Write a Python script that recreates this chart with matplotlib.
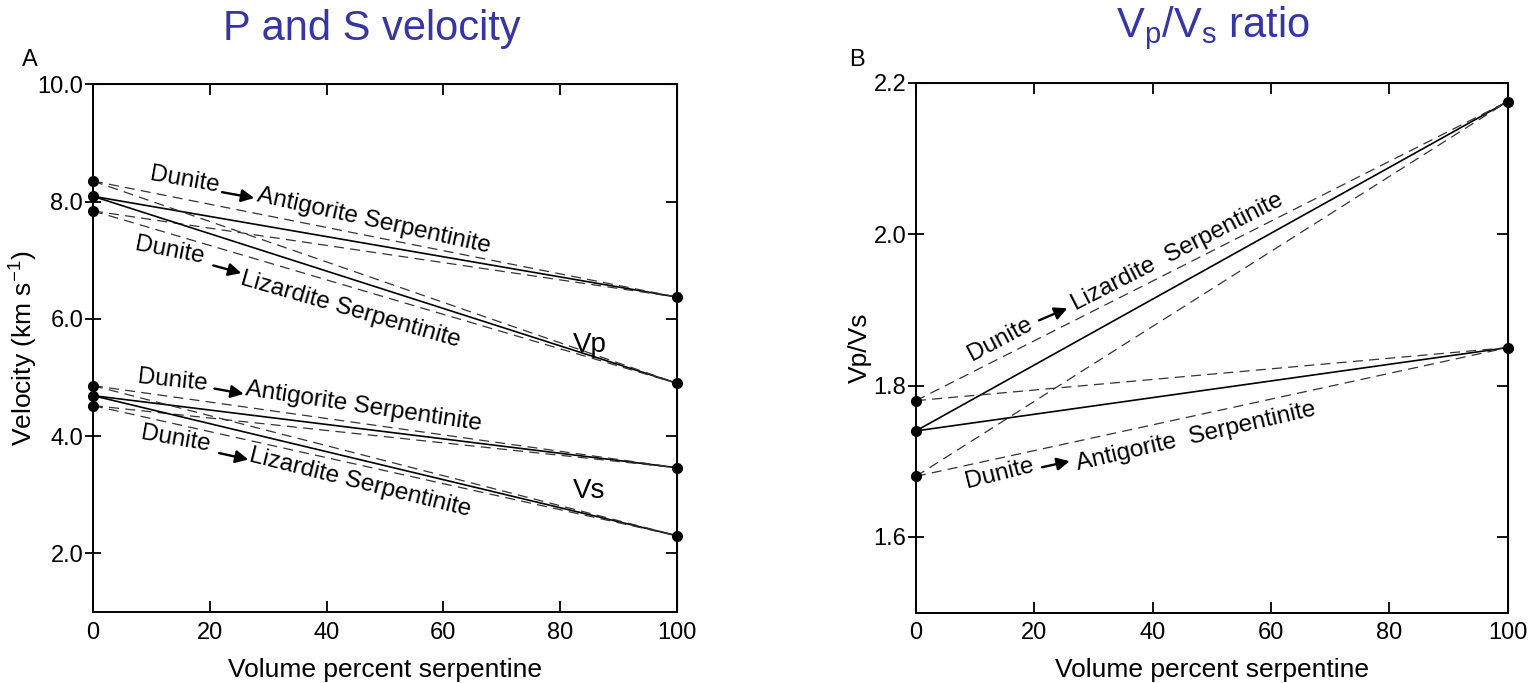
import matplotlib.pyplot as plt
from matplotlib.ticker import FormatStrFormatter

plt.rcParams['font.family'] = ['Liberation Sans', 'DejaVu Sans']
plt.rcParams['mathtext.fontset'] = 'custom'
plt.rcParams['mathtext.rm'] = 'Liberation Sans'
plt.rcParams['mathtext.it'] = 'Liberation Sans:italic'

# serpentine content (vol %)
x_ends = [0, 100]
x_ticks = [0, 20, 40, 60, 80, 100]

# panel A: dunite start values (upper, middle, lower) and serpentinite end values
vp_dunite = [8.35, 8.09, 7.84]
vp_antigorite = 6.37
vp_lizardite = 4.90
vs_dunite = [4.86, 4.69, 4.52]
vs_antigorite = 3.46
vs_lizardite = 2.30
vel_ticks = [2.0, 4.0, 6.0, 8.0, 10.0]

# panel B: Vp/Vs
ratio_dunite = [1.78, 1.74, 1.68]
ratio_lizardite = 2.175
ratio_antigorite = 1.85
ratio_ticks = [1.6, 1.8, 2.0, 2.2]

TITLE_BLUE = '#3535a5'
DASH = (0, (8, 5))


def draw_bundle(ax, starts, end):
    """Solid line from middle start, dashed from upper and lower starts."""
    ax.plot(x_ends, [starts[1], end], color='black', lw=1.2, clip_on=False)
    for s in (starts[0], starts[2]):
        ax.plot(x_ends, [s, end], color='#333333', lw=0.9, linestyle=DASH,
                clip_on=False)


def draw_dots(ax, ys_left, ys_right):
    ax.plot([0] * len(ys_left), ys_left, 'o', color='black', ms=7,
            clip_on=False, zorder=5)
    ax.plot([100] * len(ys_right), ys_right, 'o', color='black', ms=7,
            clip_on=False, zorder=5)


def label_path(ax, dunite_xy, arrow_from, arrow_to, name_xy, name, rot_a,
               rot_b, size=17.5):
    ax.text(*dunite_xy, 'Dunite', rotation=rot_a, rotation_mode='anchor',
            ha='center', va='center', fontsize=size)
    ax.annotate('', xy=arrow_to, xytext=arrow_from,
                arrowprops=dict(arrowstyle='-|>', color='black', lw=1.7,
                                mutation_scale=19, shrinkA=0, shrinkB=0))
    ax.text(*name_xy, name, rotation=rot_b, rotation_mode='anchor',
            ha='center', va='center', fontsize=size)


def style_axes(ax, yticks, ylim):
    ax.set_xlim(0, 100)
    ax.set_ylim(*ylim)
    ax.set_xticks(x_ticks)
    ax.set_yticks(yticks)
    ax.yaxis.set_major_formatter(FormatStrFormatter('%.1f'))
    ax.tick_params(axis='x', direction='in', length=8, width=1.3,
                   labelsize=17, pad=7)
    ax.tick_params(axis='y', direction='inout', length=12, width=1.3,
                   labelsize=17, pad=1)
    for sp in ax.spines.values():
        sp.set_linewidth(1.4)
    top = ax.secondary_xaxis('top')
    top.set_xticks(x_ticks)
    top.tick_params(direction='in', length=8, width=1.3, labeltop=False)
    right = ax.secondary_yaxis('right')
    right.set_yticks(yticks)
    right.tick_params(direction='in', length=8, width=1.3, labelright=False)
    ax.set_xlabel('Volume percent serpentine', fontsize=19, labelpad=10)


fig = plt.figure(figsize=(15.29, 6.83), dpi=100)
axA = fig.add_axes([0.0608, 0.104, 0.382, 0.7726])
axB = fig.add_axes([0.599, 0.103, 0.387, 0.776])

# ---- panel A
draw_bundle(axA, vp_dunite, vp_antigorite)
draw_bundle(axA, vp_dunite, vp_lizardite)
draw_bundle(axA, vs_dunite, vs_antigorite)
draw_bundle(axA, vs_dunite, vs_lizardite)
draw_dots(axA, vp_dunite + vs_dunite,
          [vp_antigorite, vp_lizardite, vs_antigorite, vs_lizardite])
style_axes(axA, vel_ticks, (1.0, 10.0))
axA.set_ylabel('Velocity (km s$^{-1}$)', fontsize=19)
axA.yaxis.set_label_coords(-0.09, 0.5)

label_path(axA, (15.6, 8.36), (22.1, 8.16), (27.6, 8.06), (48.0, 7.66),
           'Antigorite Serpentinite', -10, -12.5)
label_path(axA, (13.2, 7.16), (20.6, 6.91), (25.4, 6.78), (44.1, 6.15),
           'Lizardite Serpentinite', -11, -16)
label_path(axA, (13.6, 4.95), (20.8, 4.81), (25.8, 4.72), (46.3, 4.50),
           'Antigorite Serpentinite', -6, -8.5)
label_path(axA, (14.1, 3.95), (21.6, 3.71), (26.6, 3.60), (45.7, 3.21),
           'Lizardite Serpentinite', -10, -14)
axA.text(85, 5.55, 'Vp', fontsize=20, ha='center', va='center')
axA.text(85, 3.06, 'Vs', fontsize=20, ha='center', va='center')

# ---- panel B
draw_bundle(axB, ratio_dunite, ratio_lizardite)
draw_bundle(axB, ratio_dunite, ratio_antigorite)
draw_dots(axB, ratio_dunite, [ratio_lizardite, ratio_antigorite])
style_axes(axB, ratio_ticks, (1.5, 2.2))
axB.set_ylabel('Vp/Vs', fontsize=19)
axB.yaxis.set_label_coords(-0.075, 0.5)

label_path(axB, (14.2, 1.861), (20.8, 1.886), (25.6, 1.902), (44.2, 1.976),
           'Lizardite  Serpentinite', 28, 27)
label_path(axB, (14.2, 1.683), (21.3, 1.692), (26.0, 1.700), (47.3, 1.733),
           'Antigorite  Serpentinite', 14, 13)

# titles and panel letters
fig.text(0.2435, 0.958, 'P and S velocity', fontsize=30, color=TITLE_BLUE,
         ha='center', va='center')
fig.text(0.793, 0.958, r'V$_\mathregular{p}$/V$_\mathregular{s}$ ratio',
         fontsize=30, color=TITLE_BLUE, ha='center', va='center')
fig.text(0.0196, 0.912, 'A', fontsize=17, ha='center', va='center')
fig.text(0.5605, 0.912, 'B', fontsize=17, ha='center', va='center')

fig.savefig('out.png', dpi=100)
